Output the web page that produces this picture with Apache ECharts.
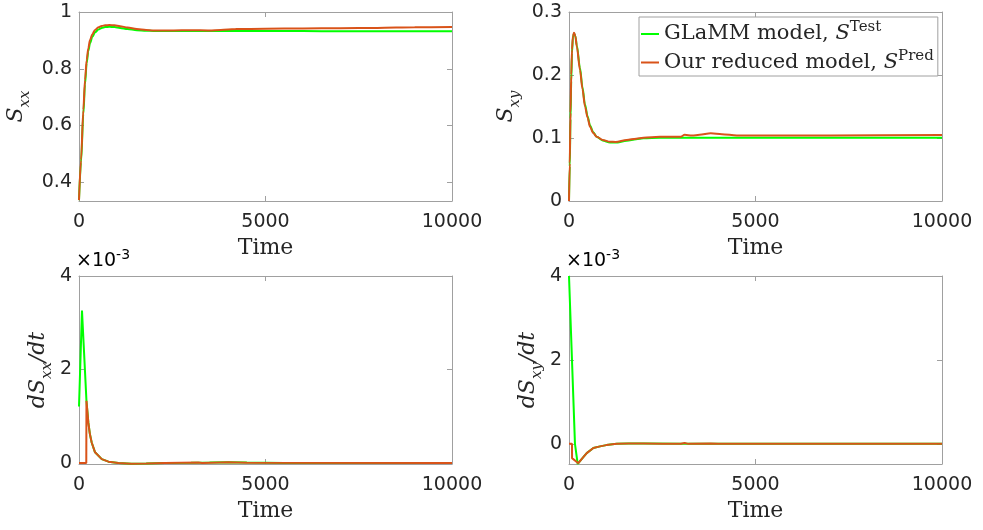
<!DOCTYPE html>
<html>
<head>
<meta charset="utf-8">
<script src="https://cdn.jsdelivr.net/npm/echarts@6/dist/echarts.min.js"></script>
<style>
  html, body { margin: 0; padding: 0; background: #fff; }
  #chart { width: 983px; height: 530px; }
</style>
</head>
<body>
<div id="chart"></div>
<script>
// Time axis shared by all four panels
const timeTicks = [0, 5000, 10000];

// S_xx : reference (GLaMM) and reduced-model prediction
const tSxxTest = [0, 54, 116, 161, 206, 250, 295, 360, 429, 520, 608, 700, 814, 950, 1100, 1300, 1548, 1800, 2000, 2500, 3000, 4000, 5000, 6000, 7000, 8000, 9000, 10000];
const sxxTest  = [0.337, 0.47, 0.64, 0.745, 0.82, 0.862, 0.89, 0.913, 0.928, 0.938, 0.944, 0.947, 0.948, 0.947, 0.944, 0.94, 0.936, 0.934, 0.933, 0.933, 0.933, 0.933, 0.933, 0.933, 0.932, 0.932, 0.932, 0.932];
const tSxxPred = [0, 54, 116, 161, 206, 250, 295, 360, 429, 520, 608, 700, 814, 950, 1100, 1300, 1548, 1800, 1995, 2500, 3000, 3500, 3800, 4200, 5000, 6000, 7000, 8000, 9000, 10000];
const sxxPred  = [0.337, 0.478, 0.655, 0.76, 0.831, 0.872, 0.901, 0.922, 0.937, 0.946, 0.951, 0.953, 0.954, 0.953, 0.95, 0.945, 0.94, 0.937, 0.935, 0.935, 0.936, 0.935, 0.937, 0.94, 0.941, 0.942, 0.943, 0.944, 0.946, 0.947];
const sxxTicks = [0.4, 0.6, 0.8, 1];

// S_xy
const tSxyTest = [0, 20, 40, 60, 80, 105, 134, 170, 210, 295, 360, 429, 500, 563, 650, 742, 900, 1100, 1250, 1548, 1800, 1995, 2440, 3000, 5000, 7000, 10000];
const sxyTest  = [0, 0.055, 0.13, 0.19, 0.235, 0.26, 0.266, 0.262, 0.247, 0.211, 0.181, 0.153, 0.134, 0.12, 0.109, 0.102, 0.096, 0.093, 0.0928, 0.0955, 0.098, 0.0995, 0.1005, 0.1005, 0.1005, 0.1005, 0.1005];
const tSxyPred = [0, 20, 40, 60, 80, 105, 134, 170, 210, 295, 360, 429, 500, 563, 650, 742, 900, 1100, 1250, 1548, 1800, 1995, 2440, 3000, 3100, 3300, 3500, 3800, 4100, 4500, 5000, 7000, 10000];
const sxyPred  = [0, 0.06, 0.14, 0.2, 0.24, 0.262, 0.267, 0.262, 0.245, 0.208, 0.178, 0.15, 0.132, 0.118, 0.108, 0.102, 0.097, 0.094, 0.0938, 0.0968, 0.099, 0.1005, 0.102, 0.102, 0.105, 0.104, 0.105, 0.1075, 0.106, 0.104, 0.104, 0.104, 0.1048];
const sxyTicks = [0, 0.1, 0.2, 0.3];

// dS_xx/dt, in units of 1e-3
const tDxxTest = [0, 80, 200, 250, 290, 340, 430, 610, 790, 1055, 1400, 1800, 2300, 3000, 3500, 4000, 4500, 5500, 10000];
const dxxTest  = [1.21, 3.26, 1.33, 0.87, 0.63, 0.44, 0.23, 0.085, 0.03, 0, -0.015, -0.01, 0, 0.005, 0.01, 0.02, 0.01, 0, 0];
const tDxxPred = [0, 195, 200, 250, 290, 340, 430, 610, 790, 1055, 1400, 1800, 2300, 3200, 3300, 4000, 4500, 10000];
const dxxPred  = [0, 0, 1.33, 0.87, 0.63, 0.44, 0.23, 0.085, 0.03, 0, -0.015, -0.01, 0, 0.01, 0, 0.015, 0.005, 0];
const dxxTicks = [0, 2, 4];

// dS_xy/dt, in units of 1e-3
const tDxyTest = [0, 160, 233, 250, 350, 475, 653, 832, 1000, 1280, 1600, 2000, 3000, 4000, 10000];
const dxyTest  = [4.0, 0, -0.48, -0.46, -0.35, -0.22, -0.10, -0.06, -0.03, 0, 0.01, 0.01, 0.005, 0, 0];
const tDxyPred = [0, 80, 82, 250, 350, 475, 653, 832, 1000, 1280, 1600, 2000, 2500, 3000, 3100, 3200, 3800, 4000, 10000];
const dxyPred  = [0, 0, -0.34, -0.46, -0.35, -0.22, -0.10, -0.06, -0.03, 0, 0.01, 0.01, 0.005, 0.005, 0.02, 0, 0.01, 0, 0];
const dxyTicks = [0, 2, 4];

const GREEN = '#00FF00';
const ORANGE = '#D95319';
const BOX = '#a0a0a0';
const INK = '#262626';
const SANS = 'DejaVu Sans';
const SERIF = 'DejaVu Serif';

const pairs = (t, v) => t.map((x, i) => [x, v[i]]);
const plain = v => String(v);

const grids = [
  { left: 79, top: 12, width: 373, height: 189 },
  { left: 569, top: 12, width: 373, height: 189 },
  { left: 79, top: 276, width: 373, height: 188 },
  { left: 569, top: 276, width: 373, height: 188 }
];

const mathRich = {
  i: { fontFamily: SERIF, fontStyle: 'italic', fontSize: 22, lineHeight: 34, color: INK },
  sub: { fontFamily: SERIF, fontStyle: 'italic', fontSize: 15, lineHeight: 10, verticalAlign: 'bottom', color: INK }
};

const yNames = ['{i|S}{sub|xx}', '{i|S}{sub|xy}', '{i|dS}{sub|xx}{i|/dt}', '{i|dS}{sub|xy}{i|/dt}'];
const yGaps = [46, 46, 24, 24];
const yRanges = [[0.334, 1], [0, 0.3], [-0.02, 4], [-0.48, 4]];
const yTickSets = [sxxTicks, sxyTicks, dxxTicks, dxyTicks];

const xAxes = [];
const yAxes = [];
grids.forEach((g, k) => {
  xAxes.push({
    type: 'value', gridIndex: k, min: 0, max: 10000,
    name: 'Time', nameLocation: 'middle', nameGap: 36,
    nameTextStyle: { fontFamily: SERIF, fontSize: 22, color: INK },
    axisLine: { onZero: false, lineStyle: { color: BOX, width: 1 } },
    axisTick: { inside: true, length: 5, lineStyle: { color: BOX }, customValues: timeTicks },
    axisLabel: { fontFamily: SANS, fontSize: 19, color: INK, margin: 12, customValues: timeTicks, formatter: plain },
    splitLine: { show: false }
  });
  xAxes.push({
    type: 'value', gridIndex: k, min: 0, max: 10000, position: 'top',
    axisLine: { onZero: false, lineStyle: { color: BOX, width: 1 } },
    axisTick: { inside: true, length: 5, lineStyle: { color: BOX }, customValues: timeTicks },
    axisLabel: { show: false }, splitLine: { show: false }
  });
  yAxes.push({
    type: 'value', gridIndex: k, min: yRanges[k][0], max: yRanges[k][1],
    name: yNames[k], nameLocation: 'middle', nameRotate: 90, nameGap: yGaps[k],
    nameTextStyle: { rich: mathRich },
    axisLine: { show: true, onZero: false, lineStyle: { color: BOX, width: 1 } },
    axisTick: { inside: true, length: 5, lineStyle: { color: BOX }, customValues: yTickSets[k] },
    axisLabel: { fontFamily: SANS, fontSize: 19, color: INK, margin: 7, customValues: yTickSets[k], formatter: plain },
    splitLine: { show: false }
  });
  yAxes.push({
    type: 'value', gridIndex: k, min: yRanges[k][0], max: yRanges[k][1], position: 'right',
    axisLine: { show: true, onZero: false, lineStyle: { color: BOX, width: 1 } },
    axisTick: { inside: true, length: 5, lineStyle: { color: BOX }, customValues: yTickSets[k] },
    axisLabel: { show: false }, splitLine: { show: false }
  });
});

const panels = [
  [tSxxTest, sxxTest, tSxxPred, sxxPred],
  [tSxyTest, sxyTest, tSxyPred, sxyPred],
  [tDxxTest, dxxTest, tDxxPred, dxxPred],
  [tDxyTest, dxyTest, tDxyPred, dxyPred]
];

const series = [];
panels.forEach((p, k) => {
  const smooth = k < 2 ? 0.3 : false;
  series.push({
    name: 'GLaMM model', type: 'line', xAxisIndex: 2 * k, yAxisIndex: 2 * k,
    data: pairs(p[0], p[1]), showSymbol: false, symbol: 'none', smooth: smooth, smoothMonotone: 'x',
    itemStyle: { color: GREEN }, lineStyle: { color: GREEN, width: 2 }, z: 2
  });
  series.push({
    name: 'Our reduced model', type: 'line', xAxisIndex: 2 * k, yAxisIndex: 2 * k,
    data: pairs(p[2], p[3]), showSymbol: false, symbol: 'none', smooth: smooth, smoothMonotone: 'x',
    itemStyle: { color: ORANGE }, lineStyle: { color: ORANGE, width: 2 }, z: 3
  });
});

const legendText = {
  'GLaMM model': '{t|GLaMM model, }{i|S}{sup|Test}',
  'Our reduced model': '{t|Our reduced model, }{i|S}{sup|Pred}'
};

const expRich = {
  b: { fontFamily: SANS, fontSize: 19, color: INK, lineHeight: 26 },
  s: { fontFamily: SANS, fontSize: 14, color: INK, lineHeight: 6, verticalAlign: 'top' }
};

const chart = echarts.init(document.getElementById('chart'), null, { renderer: 'canvas' });
chart.setOption({
  animation: false,
  backgroundColor: '#fff',
  grid: grids,
  xAxis: xAxes,
  yAxis: yAxes,
  series: series,
  legend: {
    data: ['GLaMM model', 'Our reduced model'],
    orient: 'vertical', left: 639, top: 17,
    backgroundColor: '#fff', borderColor: BOX, borderWidth: 1,
    padding: [3, 4, 3, 2], itemGap: 4,
    icon: 'rect', itemWidth: 18, itemHeight: 2,
    formatter: name => legendText[name],
    textStyle: {
      rich: {
        t: { fontFamily: SERIF, fontSize: 21, color: INK, lineHeight: 28 },
        i: { fontFamily: SERIF, fontStyle: 'italic', fontSize: 21, color: INK, lineHeight: 28 },
        sup: { fontFamily: SERIF, fontSize: 15, color: INK, lineHeight: 12, verticalAlign: 'top' }
      }
    }
  },
  graphic: [
    { type: 'text', left: 76, top: 248, style: { text: '{b|×10}{s|-3}', rich: expRich } },
    { type: 'text', left: 566, top: 248, style: { text: '{b|×10}{s|-3}', rich: expRich } }
  ]
});
</script>
</body>
</html>
